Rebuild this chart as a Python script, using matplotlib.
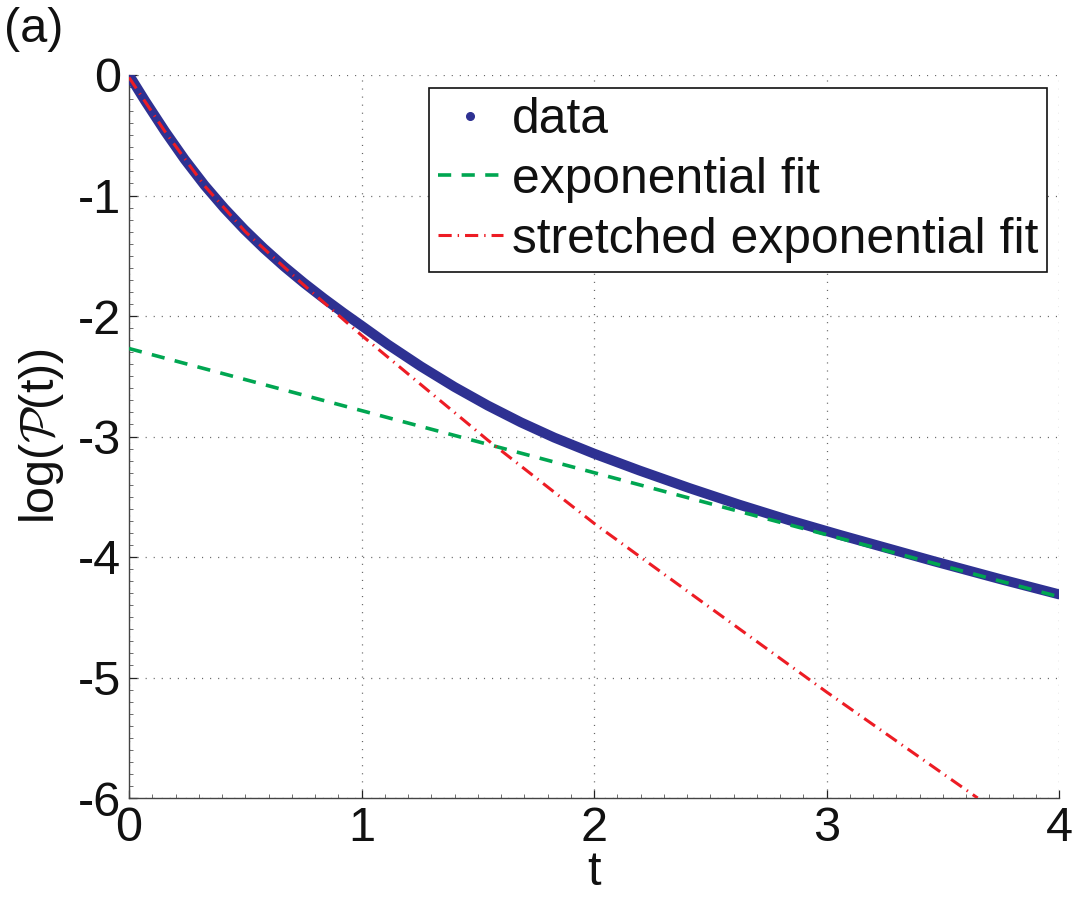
import matplotlib
matplotlib.use("Agg")
import matplotlib.pyplot as plt
from matplotlib.lines import Line2D
from matplotlib.ticker import MultipleLocator

plt.rcParams['font.family'] = ['Liberation Sans', 'DejaVu Sans']
plt.rcParams['mathtext.fontset'] = 'cm'
plt.rcParams['lines.scale_dashes'] = False

# ---- data ----
t_data = [0.0, 0.069, 0.155, 0.24, 0.325, 0.41, 0.496, 0.58, 0.667, 0.752, 0.838,
          0.923, 1.0, 1.113, 1.256, 1.40, 1.543, 1.686, 1.829, 2.0, 2.195, 2.41,
          2.625, 2.84, 3.056, 3.46, 3.75, 4.0]
logP_data = [0.0, -0.214, -0.468, -0.702, -0.915, -1.106, -1.282, -1.439, -1.589, -1.725, -1.854,
             -1.975, -2.080, -2.236, -2.419, -2.589, -2.743, -2.883, -3.009, -3.142, -3.282, -3.428,
             -3.566, -3.695, -3.816, -4.034, -4.185, -4.31]

t_exp = [0.0, 4.0]
logP_exp = [-2.27, -4.33]

t_str = [0.0, 0.155, 0.325, 0.5, 0.75, 1.0, 1.543, 2.0, 2.456, 3.0, 3.65]
logP_str = [-0.02, -0.47, -0.92, -1.30, -1.74, -2.16, -3.03, -3.72, -4.36, -5.12, -6.0]

labels = ['data', 'exponential fit', 'stretched exponential fit']
xticks = [0, 1, 2, 3, 4]
yticks = [0, -1, -2, -3, -4, -5, -6]

c_blue = '#2E3192'
c_green = '#00A651'
c_red = '#ED1C24'

FS = 35
FS_LEG = 35.8

fig = plt.figure(figsize=(10.92, 9.09), dpi=100)
ax = fig.add_axes([129/1092, 1-798/909, 930/1092, 723/909])

ax.plot(t_data, logP_data, color=c_blue, lw=7.2, solid_capstyle='round',
        solid_joinstyle='round', zorder=3)
ax.plot(t_exp, logP_exp, color=c_green, lw=2.6, linestyle=(0, (9.5, 7.5)), zorder=4)
ax.plot(t_str, logP_str, color=c_red, lw=2.2, linestyle=(0, (9.5, 4.3, 1.0, 4.3)), zorder=5)

ax.set_xlim(0, 4)
ax.set_ylim(-6, 0)
ax.set_xticks(xticks)
ax.set_yticks(yticks)
ax.set_xticklabels([str(v) for v in xticks])
ax.set_yticklabels([str(v) for v in yticks])
ax.xaxis.set_minor_locator(MultipleLocator(0.1))
ax.yaxis.set_minor_locator(MultipleLocator(0.1))
ax.tick_params(which='major', direction='in', length=6, width=0.9, labelsize=FS,
               pad=6, colors='#222222', labelcolor='#111111')
ax.tick_params(which='minor', direction='in', length=3, width=0.6, colors='#555555')

for s in ['top', 'right']:
    ax.spines[s].set_visible(False)
for s in ['left', 'bottom']:
    ax.spines[s].set_color('#444444')
    ax.spines[s].set_linewidth(1.0)

ax.grid(True, which='major', color='#666666', linestyle=(0, (0.8, 5)), linewidth=0.9)
ax.set_axisbelow(True)

ax.set_xlabel('t', fontsize=FS, labelpad=-1, color='#111111')
ax.set_ylabel(r'log($\mathcal{P}$(t))', fontsize=FS, labelpad=8, color='#111111')

handles = [
    Line2D([], [], color=c_blue, marker='o', markersize=5.5, linestyle='none'),
    Line2D([], [], color=c_green, lw=2.6, linestyle=(0, (9.5, 7.5))),
    Line2D([], [], color=c_red, lw=2.2, linestyle=(0, (9.5, 4.3, 1.0, 4.3))),
]
leg = ax.legend(handles, labels, loc='upper right', bbox_to_anchor=(0.987, 0.982),
                borderaxespad=0, fontsize=FS_LEG, frameon=True, fancybox=False,
                framealpha=1, edgecolor='#111111', handlelength=1.3,
                handletextpad=0.18, labelspacing=0.28, borderpad=0.18)
leg.get_frame().set_linewidth(1.2)
for txt in leg.get_texts():
    txt.set_color('#111111')

fig.text(0.004, 1-42/909, '(a)', fontsize=FS, va='baseline', ha='left', color='#111111')

fig.savefig('out.png', dpi=100)
